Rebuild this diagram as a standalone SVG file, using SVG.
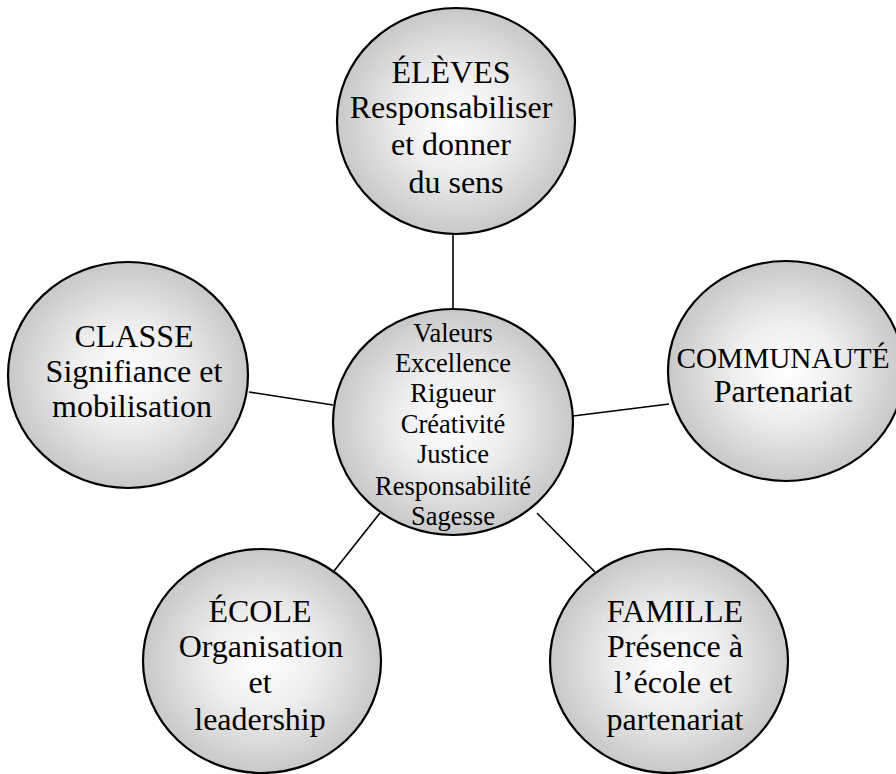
<svg xmlns="http://www.w3.org/2000/svg" width="896" height="774" viewBox="0 0 896 774">
<defs>
<radialGradient id="g" cx="50%" cy="50%" r="50%">
<stop offset="0" stop-color="#ffffff"/>
<stop offset="0.45" stop-color="#eeeeee"/>
<stop offset="1" stop-color="#c8c8c8"/>
</radialGradient>
</defs>
<style>
.n{fill:url(#g);stroke:#000;stroke-width:2.2}
.t{font-family:"Liberation Serif","Times New Roman",serif;font-size:32px;fill:#000;text-anchor:middle}
.c{font-family:"Liberation Serif","Times New Roman",serif;font-size:26.5px;fill:#000;text-anchor:middle}
.l{stroke:#000;stroke-width:1.6;fill:none}
</style>
<rect width="896" height="774" fill="#fff"/>
<g id="connectors">
<line class="l" x1="453" y1="233" x2="453" y2="309"/>
<line class="l" x1="249" y1="392" x2="333" y2="405"/>
<line class="l" x1="573" y1="416" x2="669" y2="404"/>
<line class="l" x1="380" y1="513" x2="334" y2="571"/>
<line class="l" x1="537" y1="513" x2="595" y2="572"/>
</g>
<g id="eleves">
<ellipse class="n" cx="456" cy="121" rx="119" ry="113"/>
<text class="t" x="451" y="83">ÉLÈVES</text>
<text class="t" x="451" y="118">Responsabiliser</text>
<text class="t" x="451" y="155">et donner</text>
<text class="t" x="456" y="193">du sens</text>
</g>
<g id="classe">
<ellipse class="n" cx="128" cy="375" rx="120" ry="113"/>
<text class="t" x="134" y="347">CLASSE</text>
<text class="t" x="134" y="382">Signifiance et</text>
<text class="t" x="132" y="417">mobilisation</text>
</g>
<g id="valeurs">
<ellipse class="n" cx="453" cy="422" rx="120" ry="113"/>
<text class="c" x="453" y="342">Valeurs</text>
<text class="c" x="453" y="372">Excellence</text>
<text class="c" x="453" y="402">Rigueur</text>
<text class="c" x="453" y="433">Créativité</text>
<text class="c" x="453" y="463">Justice</text>
<text class="c" x="453" y="495">Responsabilité</text>
<text class="c" x="453" y="525">Sagesse</text>
</g>
<g id="communaute">
<ellipse class="n" cx="786" cy="371" rx="118" ry="110"/>
<text class="t" x="783" y="368" style="font-size:29.3px">COMMUNAUTÉ</text>
<text class="t" x="783" y="402">Partenariat</text>
</g>
<g id="ecole">
<ellipse class="n" cx="262" cy="661" rx="119" ry="112"/>
<text class="t" x="260" y="622">ÉCOLE</text>
<text class="t" x="261" y="657">Organisation</text>
<text class="t" x="260" y="693">et</text>
<text class="t" x="260" y="730">leadership</text>
</g>
<g id="famille">
<ellipse class="n" cx="669" cy="661" rx="119" ry="112"/>
<text class="t" x="675" y="622">FAMILLE</text>
<text class="t" x="675" y="657">Présence à</text>
<text class="t" x="673" y="693">l’école et</text>
<text class="t" x="675" y="730">partenariat</text>
</g>
</svg>
